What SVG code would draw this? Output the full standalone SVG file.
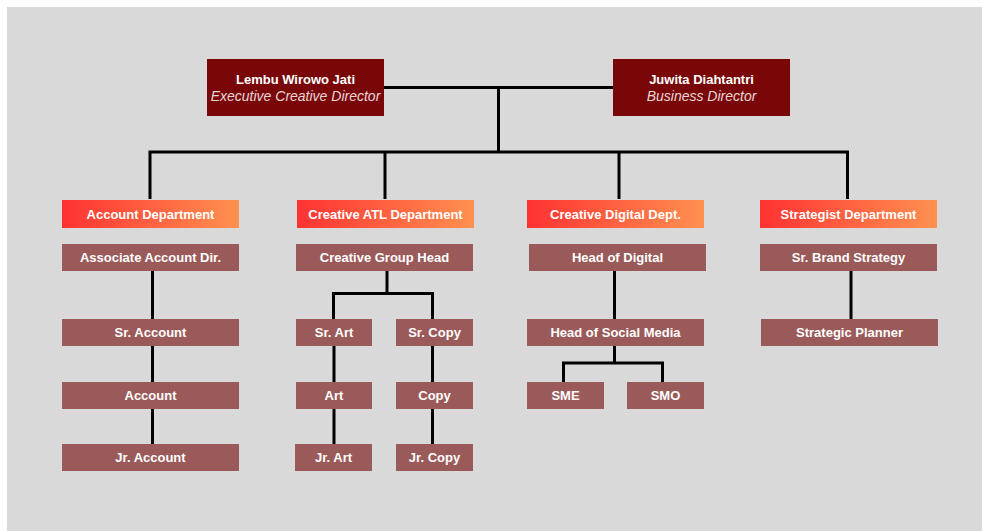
<svg xmlns="http://www.w3.org/2000/svg" width="982" height="531" viewBox="0 0 982 531">
<defs>
<linearGradient id="dept" x1="0" y1="0" x2="1" y2="0">
<stop offset="0" stop-color="#ff3232"/>
<stop offset="1" stop-color="#ff9150"/>
</linearGradient>
<style>
.exec{fill:#7a0707}
.dep{fill:url(#dept)}
.role{fill:#9b5a5a}
text{font-family:"Liberation Sans",Arial,sans-serif;fill:#ffffff;text-anchor:middle}
.b{font-weight:bold;font-size:13px}
.i{font-style:italic;font-size:14px;fill:#e8d6d6}
.ln{fill:none;stroke:#000;stroke-width:3}
</style>
</defs>
<rect width="982" height="531" fill="#ffffff"/>
<rect x="7" y="7" width="975" height="524" fill="#d9d9d9"/>
<g id="connectors">
<path class="ln" d="M384,87.5 H613 M498.5,87.5 V152 M150,199 V152 H847.5 V199 M385,152 V199 M619,152 V199"/>
<path class="ln" d="M152.5,271 V319 M152.5,346 V382 M152.5,409 V444"/>
<path class="ln" d="M387,271 V293.5 M333.5,319 V293.5 H432.5 V319 M334,346 V382 M334,409 V444 M432.5,346 V382 M432.5,409 V444"/>
<path class="ln" d="M614.5,271 V319 M614.5,346 V363 M563.5,382 V363 H662.5 V382"/>
<path class="ln" d="M851,271 V319"/>
</g>
<g id="lembu"><rect class="exec" x="207" y="59" width="177" height="57"/><text class="b" x="295.5" y="83.5">Lembu Wirowo Jati</text><text class="i" x="295.5" y="101">Executive Creative Director</text></g>
<g id="juwita"><rect class="exec" x="613" y="59" width="177" height="57"/><text class="b" x="701.5" y="83.5">Juwita Diahtantri</text><text class="i" x="701.5" y="101">Business Director</text></g>
<g id="account-dept"><rect class="dep" x="62" y="200" width="177" height="28"/><text class="b" x="150.5" y="218.5">Account Department</text></g>
<g id="atl-dept"><rect class="dep" x="297" y="200" width="177" height="28"/><text class="b" x="385.5" y="218.5">Creative ATL Department</text></g>
<g id="digital-dept"><rect class="dep" x="527" y="200" width="177" height="28"/><text class="b" x="615.5" y="218.5">Creative Digital Dept.</text></g>
<g id="strategist-dept"><rect class="dep" x="760" y="200" width="177" height="28"/><text class="b" x="848.5" y="218.5">Strategist Department</text></g>
<g id="assoc-account"><rect class="role" x="62" y="244" width="177" height="27"/><text class="b" x="150.5" y="262">Associate Account Dir.</text></g>
<g id="creative-group-head"><rect class="role" x="296" y="244" width="177" height="27"/><text class="b" x="384.5" y="262">Creative Group Head</text></g>
<g id="head-digital"><rect class="role" x="529" y="244" width="177" height="27"/><text class="b" x="617.5" y="262">Head of Digital</text></g>
<g id="sr-brand"><rect class="role" x="760" y="244" width="177" height="27"/><text class="b" x="848.5" y="262">Sr. Brand Strategy</text></g>
<g id="sr-account"><rect class="role" x="62" y="319" width="177" height="27"/><text class="b" x="150.5" y="337">Sr. Account</text></g>
<g id="sr-art"><rect class="role" x="296" y="319" width="76" height="27"/><text class="b" x="334" y="337">Sr. Art</text></g>
<g id="sr-copy"><rect class="role" x="396" y="319" width="77" height="27"/><text class="b" x="434.5" y="337">Sr. Copy</text></g>
<g id="head-social"><rect class="role" x="527" y="319" width="177" height="27"/><text class="b" x="615.5" y="337">Head of Social Media</text></g>
<g id="strategic-planner"><rect class="role" x="761" y="319" width="177" height="27"/><text class="b" x="849.5" y="337">Strategic Planner</text></g>
<g id="account"><rect class="role" x="62" y="382" width="177" height="27"/><text class="b" x="150.5" y="400">Account</text></g>
<g id="art"><rect class="role" x="296" y="382" width="76" height="27"/><text class="b" x="334" y="400">Art</text></g>
<g id="copy"><rect class="role" x="396" y="382" width="77" height="27"/><text class="b" x="434.5" y="400">Copy</text></g>
<g id="sme"><rect class="role" x="527" y="382" width="77" height="27"/><text class="b" x="565.5" y="400">SME</text></g>
<g id="smo"><rect class="role" x="627" y="382" width="77" height="27"/><text class="b" x="665.5" y="400">SMO</text></g>
<g id="jr-account"><rect class="role" x="62" y="444" width="177" height="27"/><text class="b" x="150.5" y="462">Jr. Account</text></g>
<g id="jr-art"><rect class="role" x="295" y="444" width="77" height="27"/><text class="b" x="333.5" y="462">Jr. Art</text></g>
<g id="jr-copy"><rect class="role" x="396" y="444" width="77" height="27"/><text class="b" x="434.5" y="462">Jr. Copy</text></g>
</svg>
